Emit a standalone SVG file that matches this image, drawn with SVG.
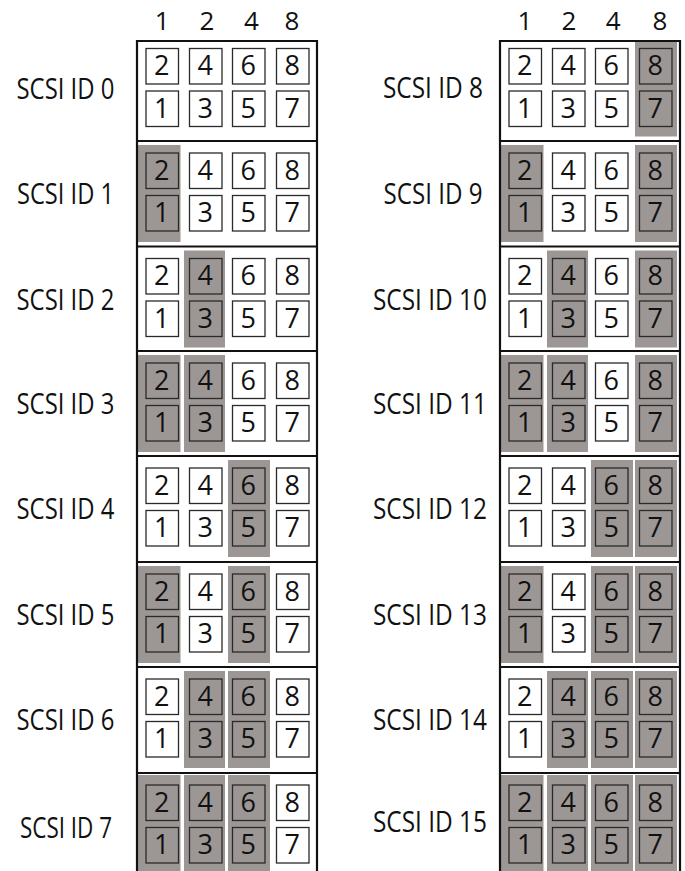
<svg xmlns="http://www.w3.org/2000/svg" width="685" height="871" viewBox="0 0 685 871">
<style>
text{font-family:"Open Sans","Noto Sans","DejaVu Sans",sans-serif;fill:#111}
.d{font-size:27px;text-anchor:middle}
.h{font-size:26px;text-anchor:middle}
.l{font-size:28.5px;text-anchor:middle}
.sh{fill:#9c9795}
.sq{fill:#fff;stroke:#2a2a2a;stroke-width:1.3}
.sqs{fill:none;stroke:#2a2a2a;stroke-width:1.3}
.fr{stroke:#111;stroke-width:2.2;fill:none}
</style>
<g id="headers">
<text class="h" x="162.3" y="30">1</text><text class="h" x="207" y="30">2</text><text class="h" x="251.5" y="30">4</text><text class="h" x="292" y="30">8</text>
<text class="h" x="525" y="30">1</text><text class="h" x="569" y="30">2</text><text class="h" x="613.3" y="30">4</text><text class="h" x="660" y="30">8</text>
</g>
<g id="scsi-id-0" transform="translate(0,48.5)">
<text class="l" x="65.5" y="50" textLength="98" lengthAdjust="spacingAndGlyphs">SCSI ID 0</text>
<rect class="sq" x="146" y="0" width="32.5" height="35.5"/><rect class="sq" x="189.5" y="0" width="32.5" height="35.5"/><rect class="sq" x="232.5" y="0" width="32.5" height="35.5"/><rect class="sq" x="276.5" y="0" width="32.5" height="35.5"/>
<rect class="sq" x="146" y="42.5" width="32.5" height="35.5"/><rect class="sq" x="189.5" y="42.5" width="32.5" height="35.5"/><rect class="sq" x="232.5" y="42.5" width="32.5" height="35.5"/><rect class="sq" x="276.5" y="42.5" width="32.5" height="35.5"/>
<text class="d" x="161.8" y="26.5">2</text><text class="d" x="205.3" y="26.5">4</text><text class="d" x="248.3" y="26.5">6</text><text class="d" x="292.3" y="26.5">8</text>
<text class="d" x="161.8" y="69">1</text><text class="d" x="205.3" y="69">3</text><text class="d" x="248.3" y="69">5</text><text class="d" x="292.3" y="69">7</text>
</g>
<g id="scsi-id-1" transform="translate(0,153)">
<text class="l" x="65.5" y="51" textLength="97" lengthAdjust="spacingAndGlyphs">SCSI ID 1</text>
<rect class="sh" x="138" y="-8" width="42.5" height="97"/>
<rect class="sqs" x="146" y="0" width="32.5" height="35.5"/><rect class="sq" x="189.5" y="0" width="32.5" height="35.5"/><rect class="sq" x="232.5" y="0" width="32.5" height="35.5"/><rect class="sq" x="276.5" y="0" width="32.5" height="35.5"/>
<rect class="sqs" x="146" y="42.5" width="32.5" height="35.5"/><rect class="sq" x="189.5" y="42.5" width="32.5" height="35.5"/><rect class="sq" x="232.5" y="42.5" width="32.5" height="35.5"/><rect class="sq" x="276.5" y="42.5" width="32.5" height="35.5"/>
<text class="d" x="161.8" y="26.5">2</text><text class="d" x="205.3" y="26.5">4</text><text class="d" x="248.3" y="26.5">6</text><text class="d" x="292.3" y="26.5">8</text>
<text class="d" x="161.8" y="69">1</text><text class="d" x="205.3" y="69">3</text><text class="d" x="248.3" y="69">5</text><text class="d" x="292.3" y="69">7</text>
</g>
<g id="scsi-id-2" transform="translate(0,258.5)">
<text class="l" x="65.5" y="51" textLength="98" lengthAdjust="spacingAndGlyphs">SCSI ID 2</text>
<rect class="sh" x="184" y="-8" width="41" height="97"/>
<rect class="sq" x="146" y="0" width="32.5" height="35.5"/><rect class="sqs" x="189.5" y="0" width="32.5" height="35.5"/><rect class="sq" x="232.5" y="0" width="32.5" height="35.5"/><rect class="sq" x="276.5" y="0" width="32.5" height="35.5"/>
<rect class="sq" x="146" y="42.5" width="32.5" height="35.5"/><rect class="sqs" x="189.5" y="42.5" width="32.5" height="35.5"/><rect class="sq" x="232.5" y="42.5" width="32.5" height="35.5"/><rect class="sq" x="276.5" y="42.5" width="32.5" height="35.5"/>
<text class="d" x="161.8" y="26.5">2</text><text class="d" x="205.3" y="26.5">4</text><text class="d" x="248.3" y="26.5">6</text><text class="d" x="292.3" y="26.5">8</text>
<text class="d" x="161.8" y="69">1</text><text class="d" x="205.3" y="69">3</text><text class="d" x="248.3" y="69">5</text><text class="d" x="292.3" y="69">7</text>
</g>
<g id="scsi-id-3" transform="translate(0,363)">
<text class="l" x="65.5" y="51" textLength="98" lengthAdjust="spacingAndGlyphs">SCSI ID 3</text>
<rect class="sh" x="138" y="-8" width="42.5" height="97"/><rect class="sh" x="184" y="-8" width="41" height="97"/>
<rect class="sqs" x="146" y="0" width="32.5" height="35.5"/><rect class="sqs" x="189.5" y="0" width="32.5" height="35.5"/><rect class="sq" x="232.5" y="0" width="32.5" height="35.5"/><rect class="sq" x="276.5" y="0" width="32.5" height="35.5"/>
<rect class="sqs" x="146" y="42.5" width="32.5" height="35.5"/><rect class="sqs" x="189.5" y="42.5" width="32.5" height="35.5"/><rect class="sq" x="232.5" y="42.5" width="32.5" height="35.5"/><rect class="sq" x="276.5" y="42.5" width="32.5" height="35.5"/>
<text class="d" x="161.8" y="26.5">2</text><text class="d" x="205.3" y="26.5">4</text><text class="d" x="248.3" y="26.5">6</text><text class="d" x="292.3" y="26.5">8</text>
<text class="d" x="161.8" y="69">1</text><text class="d" x="205.3" y="69">3</text><text class="d" x="248.3" y="69">5</text><text class="d" x="292.3" y="69">7</text>
</g>
<g id="scsi-id-4" transform="translate(0,468)">
<text class="l" x="65.5" y="51" textLength="98" lengthAdjust="spacingAndGlyphs">SCSI ID 4</text>
<rect class="sh" x="228" y="-8" width="42" height="97"/>
<rect class="sq" x="146" y="0" width="32.5" height="35.5"/><rect class="sq" x="189.5" y="0" width="32.5" height="35.5"/><rect class="sqs" x="232.5" y="0" width="32.5" height="35.5"/><rect class="sq" x="276.5" y="0" width="32.5" height="35.5"/>
<rect class="sq" x="146" y="42.5" width="32.5" height="35.5"/><rect class="sq" x="189.5" y="42.5" width="32.5" height="35.5"/><rect class="sqs" x="232.5" y="42.5" width="32.5" height="35.5"/><rect class="sq" x="276.5" y="42.5" width="32.5" height="35.5"/>
<text class="d" x="161.8" y="26.5">2</text><text class="d" x="205.3" y="26.5">4</text><text class="d" x="248.3" y="26.5">6</text><text class="d" x="292.3" y="26.5">8</text>
<text class="d" x="161.8" y="69">1</text><text class="d" x="205.3" y="69">3</text><text class="d" x="248.3" y="69">5</text><text class="d" x="292.3" y="69">7</text>
</g>
<g id="scsi-id-5" transform="translate(0,574)">
<text class="l" x="65.5" y="51" textLength="98" lengthAdjust="spacingAndGlyphs">SCSI ID 5</text>
<rect class="sh" x="138" y="-8" width="42.5" height="97"/><rect class="sh" x="228" y="-8" width="42" height="97"/>
<rect class="sqs" x="146" y="0" width="32.5" height="35.5"/><rect class="sq" x="189.5" y="0" width="32.5" height="35.5"/><rect class="sqs" x="232.5" y="0" width="32.5" height="35.5"/><rect class="sq" x="276.5" y="0" width="32.5" height="35.5"/>
<rect class="sqs" x="146" y="42.5" width="32.5" height="35.5"/><rect class="sq" x="189.5" y="42.5" width="32.5" height="35.5"/><rect class="sqs" x="232.5" y="42.5" width="32.5" height="35.5"/><rect class="sq" x="276.5" y="42.5" width="32.5" height="35.5"/>
<text class="d" x="161.8" y="26.5">2</text><text class="d" x="205.3" y="26.5">4</text><text class="d" x="248.3" y="26.5">6</text><text class="d" x="292.3" y="26.5">8</text>
<text class="d" x="161.8" y="69">1</text><text class="d" x="205.3" y="69">3</text><text class="d" x="248.3" y="69">5</text><text class="d" x="292.3" y="69">7</text>
</g>
<g id="scsi-id-6" transform="translate(0,679)">
<text class="l" x="65.5" y="51" textLength="98" lengthAdjust="spacingAndGlyphs">SCSI ID 6</text>
<rect class="sh" x="184" y="-8" width="41" height="97"/><rect class="sh" x="228" y="-8" width="42" height="97"/>
<rect class="sq" x="146" y="0" width="32.5" height="35.5"/><rect class="sqs" x="189.5" y="0" width="32.5" height="35.5"/><rect class="sqs" x="232.5" y="0" width="32.5" height="35.5"/><rect class="sq" x="276.5" y="0" width="32.5" height="35.5"/>
<rect class="sq" x="146" y="42.5" width="32.5" height="35.5"/><rect class="sqs" x="189.5" y="42.5" width="32.5" height="35.5"/><rect class="sqs" x="232.5" y="42.5" width="32.5" height="35.5"/><rect class="sq" x="276.5" y="42.5" width="32.5" height="35.5"/>
<text class="d" x="161.8" y="26.5">2</text><text class="d" x="205.3" y="26.5">4</text><text class="d" x="248.3" y="26.5">6</text><text class="d" x="292.3" y="26.5">8</text>
<text class="d" x="161.8" y="69">1</text><text class="d" x="205.3" y="69">3</text><text class="d" x="248.3" y="69">5</text><text class="d" x="292.3" y="69">7</text>
</g>
<g id="scsi-id-7" transform="translate(0,785)">
<text class="l" x="66" y="52.7" textLength="92" lengthAdjust="spacingAndGlyphs">SCSI ID 7</text>
<rect class="sh" x="138" y="-10" width="42.5" height="100"/><rect class="sh" x="184" y="-10" width="41" height="100"/><rect class="sh" x="228" y="-10" width="42" height="100"/>
<rect class="sqs" x="146" y="0" width="32.5" height="35.5"/><rect class="sqs" x="189.5" y="0" width="32.5" height="35.5"/><rect class="sqs" x="232.5" y="0" width="32.5" height="35.5"/><rect class="sq" x="276.5" y="0" width="32.5" height="35.5"/>
<rect class="sqs" x="146" y="42.5" width="32.5" height="35.5"/><rect class="sqs" x="189.5" y="42.5" width="32.5" height="35.5"/><rect class="sqs" x="232.5" y="42.5" width="32.5" height="35.5"/><rect class="sq" x="276.5" y="42.5" width="32.5" height="35.5"/>
<text class="d" x="161.8" y="26.5">2</text><text class="d" x="205.3" y="26.5">4</text><text class="d" x="248.3" y="26.5">6</text><text class="d" x="292.3" y="26.5">8</text>
<text class="d" x="161.8" y="69">1</text><text class="d" x="205.3" y="69">3</text><text class="d" x="248.3" y="69">5</text><text class="d" x="292.3" y="69">7</text>
</g>
<g id="scsi-id-8" transform="translate(363,48.5)">
<text class="l" x="70" y="49" textLength="100" lengthAdjust="spacingAndGlyphs">SCSI ID 8</text>
<rect class="sh" x="272" y="-6.5" width="42" height="94.5"/>
<rect class="sq" x="146" y="0" width="32.5" height="35.5"/><rect class="sq" x="189.5" y="0" width="32.5" height="35.5"/><rect class="sq" x="232.5" y="0" width="32.5" height="35.5"/><rect class="sqs" x="276.5" y="0" width="32.5" height="35.5"/>
<rect class="sq" x="146" y="42.5" width="32.5" height="35.5"/><rect class="sq" x="189.5" y="42.5" width="32.5" height="35.5"/><rect class="sq" x="232.5" y="42.5" width="32.5" height="35.5"/><rect class="sqs" x="276.5" y="42.5" width="32.5" height="35.5"/>
<text class="d" x="161.8" y="26.5">2</text><text class="d" x="205.3" y="26.5">4</text><text class="d" x="248.3" y="26.5">6</text><text class="d" x="292.3" y="26.5">8</text>
<text class="d" x="161.8" y="69">1</text><text class="d" x="205.3" y="69">3</text><text class="d" x="248.3" y="69">5</text><text class="d" x="292.3" y="69">7</text>
</g>
<g id="scsi-id-9" transform="translate(363,153)">
<text class="l" x="70" y="51" textLength="99" lengthAdjust="spacingAndGlyphs">SCSI ID 9</text>
<rect class="sh" x="138" y="-8" width="42.5" height="97"/><rect class="sh" x="272" y="-8" width="42" height="97"/>
<rect class="sqs" x="146" y="0" width="32.5" height="35.5"/><rect class="sq" x="189.5" y="0" width="32.5" height="35.5"/><rect class="sq" x="232.5" y="0" width="32.5" height="35.5"/><rect class="sqs" x="276.5" y="0" width="32.5" height="35.5"/>
<rect class="sqs" x="146" y="42.5" width="32.5" height="35.5"/><rect class="sq" x="189.5" y="42.5" width="32.5" height="35.5"/><rect class="sq" x="232.5" y="42.5" width="32.5" height="35.5"/><rect class="sqs" x="276.5" y="42.5" width="32.5" height="35.5"/>
<text class="d" x="161.8" y="26.5">2</text><text class="d" x="205.3" y="26.5">4</text><text class="d" x="248.3" y="26.5">6</text><text class="d" x="292.3" y="26.5">8</text>
<text class="d" x="161.8" y="69">1</text><text class="d" x="205.3" y="69">3</text><text class="d" x="248.3" y="69">5</text><text class="d" x="292.3" y="69">7</text>
</g>
<g id="scsi-id-10" transform="translate(363,258.5)">
<text class="l" x="67" y="51" textLength="114" lengthAdjust="spacingAndGlyphs">SCSI ID 10</text>
<rect class="sh" x="184" y="-8" width="41" height="97"/><rect class="sh" x="272" y="-8" width="42" height="97"/>
<rect class="sq" x="146" y="0" width="32.5" height="35.5"/><rect class="sqs" x="189.5" y="0" width="32.5" height="35.5"/><rect class="sq" x="232.5" y="0" width="32.5" height="35.5"/><rect class="sqs" x="276.5" y="0" width="32.5" height="35.5"/>
<rect class="sq" x="146" y="42.5" width="32.5" height="35.5"/><rect class="sqs" x="189.5" y="42.5" width="32.5" height="35.5"/><rect class="sq" x="232.5" y="42.5" width="32.5" height="35.5"/><rect class="sqs" x="276.5" y="42.5" width="32.5" height="35.5"/>
<text class="d" x="161.8" y="26.5">2</text><text class="d" x="205.3" y="26.5">4</text><text class="d" x="248.3" y="26.5">6</text><text class="d" x="292.3" y="26.5">8</text>
<text class="d" x="161.8" y="69">1</text><text class="d" x="205.3" y="69">3</text><text class="d" x="248.3" y="69">5</text><text class="d" x="292.3" y="69">7</text>
</g>
<g id="scsi-id-11" transform="translate(363,363)">
<text class="l" x="67" y="51" textLength="114" lengthAdjust="spacingAndGlyphs">SCSI ID 11</text>
<rect class="sh" x="138" y="-8" width="42.5" height="97"/><rect class="sh" x="184" y="-8" width="41" height="97"/><rect class="sh" x="272" y="-8" width="42" height="97"/>
<rect class="sqs" x="146" y="0" width="32.5" height="35.5"/><rect class="sqs" x="189.5" y="0" width="32.5" height="35.5"/><rect class="sq" x="232.5" y="0" width="32.5" height="35.5"/><rect class="sqs" x="276.5" y="0" width="32.5" height="35.5"/>
<rect class="sqs" x="146" y="42.5" width="32.5" height="35.5"/><rect class="sqs" x="189.5" y="42.5" width="32.5" height="35.5"/><rect class="sq" x="232.5" y="42.5" width="32.5" height="35.5"/><rect class="sqs" x="276.5" y="42.5" width="32.5" height="35.5"/>
<text class="d" x="161.8" y="26.5">2</text><text class="d" x="205.3" y="26.5">4</text><text class="d" x="248.3" y="26.5">6</text><text class="d" x="292.3" y="26.5">8</text>
<text class="d" x="161.8" y="69">1</text><text class="d" x="205.3" y="69">3</text><text class="d" x="248.3" y="69">5</text><text class="d" x="292.3" y="69">7</text>
</g>
<g id="scsi-id-12" transform="translate(363,468)">
<text class="l" x="67" y="51" textLength="114" lengthAdjust="spacingAndGlyphs">SCSI ID 12</text>
<rect class="sh" x="228" y="-8" width="42" height="97"/><rect class="sh" x="272" y="-8" width="42" height="97"/>
<rect class="sq" x="146" y="0" width="32.5" height="35.5"/><rect class="sq" x="189.5" y="0" width="32.5" height="35.5"/><rect class="sqs" x="232.5" y="0" width="32.5" height="35.5"/><rect class="sqs" x="276.5" y="0" width="32.5" height="35.5"/>
<rect class="sq" x="146" y="42.5" width="32.5" height="35.5"/><rect class="sq" x="189.5" y="42.5" width="32.5" height="35.5"/><rect class="sqs" x="232.5" y="42.5" width="32.5" height="35.5"/><rect class="sqs" x="276.5" y="42.5" width="32.5" height="35.5"/>
<text class="d" x="161.8" y="26.5">2</text><text class="d" x="205.3" y="26.5">4</text><text class="d" x="248.3" y="26.5">6</text><text class="d" x="292.3" y="26.5">8</text>
<text class="d" x="161.8" y="69">1</text><text class="d" x="205.3" y="69">3</text><text class="d" x="248.3" y="69">5</text><text class="d" x="292.3" y="69">7</text>
</g>
<g id="scsi-id-13" transform="translate(363,574)">
<text class="l" x="67" y="51" textLength="114" lengthAdjust="spacingAndGlyphs">SCSI ID 13</text>
<rect class="sh" x="138" y="-8" width="42.5" height="97"/><rect class="sh" x="228" y="-8" width="42" height="97"/><rect class="sh" x="272" y="-8" width="42" height="97"/>
<rect class="sqs" x="146" y="0" width="32.5" height="35.5"/><rect class="sq" x="189.5" y="0" width="32.5" height="35.5"/><rect class="sqs" x="232.5" y="0" width="32.5" height="35.5"/><rect class="sqs" x="276.5" y="0" width="32.5" height="35.5"/>
<rect class="sqs" x="146" y="42.5" width="32.5" height="35.5"/><rect class="sq" x="189.5" y="42.5" width="32.5" height="35.5"/><rect class="sqs" x="232.5" y="42.5" width="32.5" height="35.5"/><rect class="sqs" x="276.5" y="42.5" width="32.5" height="35.5"/>
<text class="d" x="161.8" y="26.5">2</text><text class="d" x="205.3" y="26.5">4</text><text class="d" x="248.3" y="26.5">6</text><text class="d" x="292.3" y="26.5">8</text>
<text class="d" x="161.8" y="69">1</text><text class="d" x="205.3" y="69">3</text><text class="d" x="248.3" y="69">5</text><text class="d" x="292.3" y="69">7</text>
</g>
<g id="scsi-id-14" transform="translate(363,679)">
<text class="l" x="67" y="51" textLength="114" lengthAdjust="spacingAndGlyphs">SCSI ID 14</text>
<rect class="sh" x="184" y="-8" width="41" height="97"/><rect class="sh" x="228" y="-8" width="42" height="97"/><rect class="sh" x="272" y="-8" width="42" height="97"/>
<rect class="sq" x="146" y="0" width="32.5" height="35.5"/><rect class="sqs" x="189.5" y="0" width="32.5" height="35.5"/><rect class="sqs" x="232.5" y="0" width="32.5" height="35.5"/><rect class="sqs" x="276.5" y="0" width="32.5" height="35.5"/>
<rect class="sq" x="146" y="42.5" width="32.5" height="35.5"/><rect class="sqs" x="189.5" y="42.5" width="32.5" height="35.5"/><rect class="sqs" x="232.5" y="42.5" width="32.5" height="35.5"/><rect class="sqs" x="276.5" y="42.5" width="32.5" height="35.5"/>
<text class="d" x="161.8" y="26.5">2</text><text class="d" x="205.3" y="26.5">4</text><text class="d" x="248.3" y="26.5">6</text><text class="d" x="292.3" y="26.5">8</text>
<text class="d" x="161.8" y="69">1</text><text class="d" x="205.3" y="69">3</text><text class="d" x="248.3" y="69">5</text><text class="d" x="292.3" y="69">7</text>
</g>
<g id="scsi-id-15" transform="translate(363,785)">
<text class="l" x="67" y="47" textLength="114" lengthAdjust="spacingAndGlyphs">SCSI ID 15</text>
<rect class="sh" x="138" y="-10" width="42.5" height="100"/><rect class="sh" x="184" y="-10" width="41" height="100"/><rect class="sh" x="228" y="-10" width="42" height="100"/><rect class="sh" x="272" y="-10" width="42" height="100"/>
<rect class="sqs" x="146" y="0" width="32.5" height="35.5"/><rect class="sqs" x="189.5" y="0" width="32.5" height="35.5"/><rect class="sqs" x="232.5" y="0" width="32.5" height="35.5"/><rect class="sqs" x="276.5" y="0" width="32.5" height="35.5"/>
<rect class="sqs" x="146" y="42.5" width="32.5" height="35.5"/><rect class="sqs" x="189.5" y="42.5" width="32.5" height="35.5"/><rect class="sqs" x="232.5" y="42.5" width="32.5" height="35.5"/><rect class="sqs" x="276.5" y="42.5" width="32.5" height="35.5"/>
<text class="d" x="161.8" y="26.5">2</text><text class="d" x="205.3" y="26.5">4</text><text class="d" x="248.3" y="26.5">6</text><text class="d" x="292.3" y="26.5">8</text>
<text class="d" x="161.8" y="69">1</text><text class="d" x="205.3" y="69">3</text><text class="d" x="248.3" y="69">5</text><text class="d" x="292.3" y="69">7</text>
</g>
<g id="connectors">
<path class="fr" d="M137,871V41H317V871M137,141H317M137,246.5H317M137,351H317M137,456H317M137,562H317M137,667H317M137,773H317"/>
<path class="fr" d="M500,871V41H680V871M500,141H680M500,246.5H680M500,351H680M500,456H680M500,562H680M500,667H680M500,773H680"/>
</g>
</svg>
